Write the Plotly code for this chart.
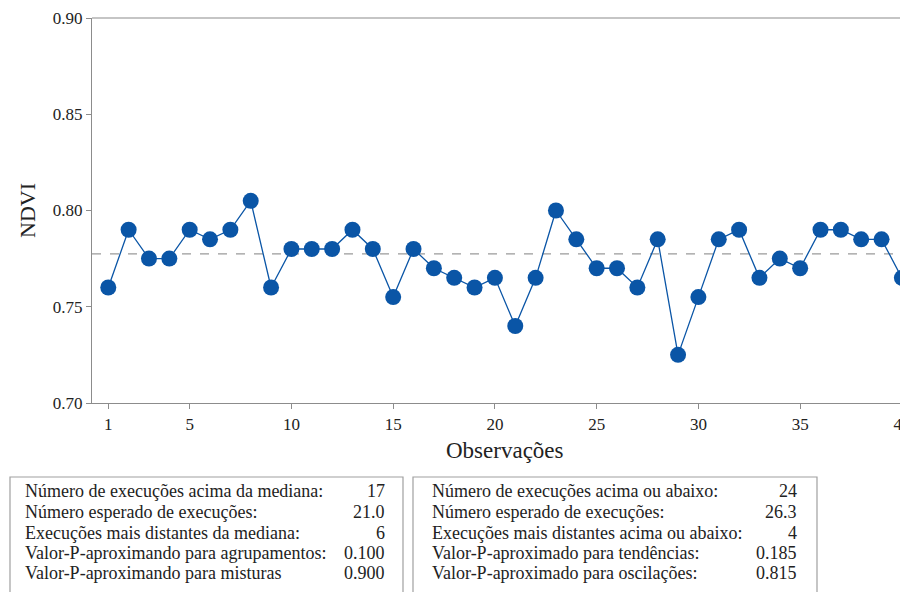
import plotly.graph_objects as go
import numpy as np

obs = list(range(1, 41))
ndvi = [0.760, 0.790, 0.775, 0.775, 0.790, 0.785, 0.790, 0.805, 0.760, 0.780,
        0.780, 0.780, 0.790, 0.780, 0.755, 0.780, 0.770, 0.765, 0.760, 0.765,
        0.740, 0.765, 0.800, 0.785, 0.770, 0.770, 0.760, 0.785, 0.725, 0.755,
        0.785, 0.790, 0.765, 0.775, 0.770, 0.790, 0.790, 0.785, 0.785, 0.765]
median = float(np.median(ndvi))

x_ticks = [1, 5, 10, 15, 20, 25, 30, 35, 40]
y_ticks = [0.70, 0.75, 0.80, 0.85, 0.90]

left_labels = ["Número de execuções acima da mediana:",
               "Número esperado de execuções:",
               "Execuções mais distantes da mediana:",
               "Valor-P-aproximando para agrupamentos:",
               "Valor-P-aproximando para misturas"]
left_values = ["17", "21.0", "6", "0.100", "0.900"]
right_labels = ["Número de execuções acima ou abaixo:",
                "Número esperado de execuções:",
                "Execuções mais distantes acima ou abaixo:",
                "Valor-P-aproximado para tendências:",
                "Valor-P-aproximado para oscilações:"]
right_values = ["24", "26.3", "4", "0.185", "0.815"]

OFF = 8  # page body margin
W, H = 908, 592
L, T, B, R = 92 - OFF, 18 - OFF, 403 - OFF, 908 - OFF
pw, ph = R - L, B - T

def px(x):
    return (x - OFF - L) / pw

def py(y):
    return (B - (y - OFF)) / ph

FONT = "Liberation Serif"
BLUE = "#0a55a6"
GRAY = "#8c8c8c"
TXT = "#222222"

fig = go.Figure()
fig.add_trace(go.Scatter(x=[0.2, 40.3], y=[median, median], mode="lines",
                         line=dict(color="#9a9a9a", width=1.2, dash="dash"),
                         hoverinfo="skip", showlegend=False))
fig.add_trace(go.Scatter(x=obs, y=ndvi, mode="lines+markers",
                         line=dict(color=BLUE, width=1.3),
                         marker=dict(color=BLUE, size=16),
                         cliponaxis=False, showlegend=False))

shapes = [dict(type="line", xref="paper", yref="paper", x0=0, x1=1, y0=1, y1=1,
               line=dict(color=GRAY, width=1.2))]
for (x0, x1) in [(10, 403), (413, 817)]:
    shapes.append(dict(type="rect", xref="paper", yref="paper",
                       x0=px(x0), x1=px(x1), y0=py(477), y1=py(610),
                       line=dict(color="#a0a0a0", width=1.2)))

annotations = []
rows_y = [491, 512, 532.5, 553, 573]
TS = 18
for i in range(5):
    annotations.append(dict(xref="paper", yref="paper", x=px(23), y=py(rows_y[i]),
                            text=left_labels[i], showarrow=False, xanchor="left",
                            yanchor="middle", font=dict(family=FONT, size=TS, color=TXT)))
    annotations.append(dict(xref="paper", yref="paper", x=px(387), y=py(rows_y[i]),
                            text=left_values[i], showarrow=False, xanchor="right",
                            yanchor="middle", font=dict(family=FONT, size=TS, color=TXT)))
    annotations.append(dict(xref="paper", yref="paper", x=px(430), y=py(rows_y[i]),
                            text=right_labels[i], showarrow=False, xanchor="left",
                            yanchor="middle", font=dict(family=FONT, size=TS, color=TXT)))
    annotations.append(dict(xref="paper", yref="paper", x=px(799), y=py(rows_y[i]),
                            text=right_values[i], showarrow=False, xanchor="right",
                            yanchor="middle", font=dict(family=FONT, size=TS, color=TXT)))
annotations.append(dict(xref="paper", yref="paper", x=px(505), y=py(450),
                        text="Observações", showarrow=False, xanchor="center",
                        yanchor="middle", font=dict(family=FONT, size=23, color=TXT)))
annotations.append(dict(xref="paper", yref="paper", x=px(27), y=py(211),
                        text="NDVI", showarrow=False, textangle=-90, xanchor="center",
                        yanchor="middle", font=dict(family=FONT, size=22, color=TXT)))

fig.update_layout(
    width=W, height=H, autosize=False,
    margin=dict(l=L, r=W - R, t=T, b=H - B, autoexpand=False),
    paper_bgcolor="white", plot_bgcolor="white",
    font=dict(family=FONT, color=TXT),
    shapes=shapes, annotations=annotations,
    xaxis=dict(range=[0.2, 40.3], tickvals=x_ticks, ticks="outside", ticklen=5,
               tickcolor=GRAY, showline=True, linecolor=GRAY, linewidth=1.2,
               showgrid=False, zeroline=False, ticklabeloverflow="allow",
               automargin=False,
               tickfont=dict(family=FONT, size=17, color=TXT)),
    yaxis=dict(range=[0.70, 0.90], tickvals=y_ticks, tickformat=".2f",
               ticks="outside", ticklen=5, tickcolor=GRAY, showline=True,
               linecolor=GRAY, linewidth=1.2, showgrid=False, zeroline=False,
               automargin=False,
               tickfont=dict(family=FONT, size=17, color=TXT)),
)

fig.write_html("out.html")
